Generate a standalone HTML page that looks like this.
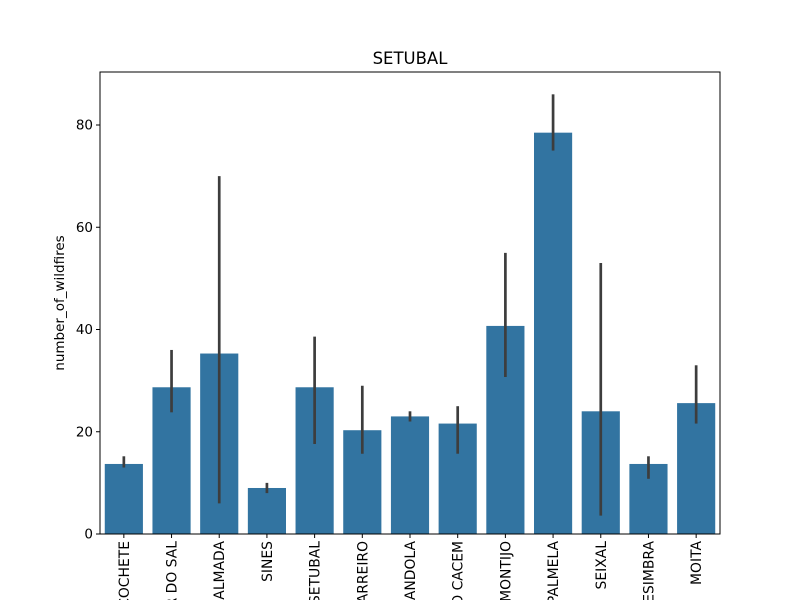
<!DOCTYPE html>
<html><head><meta charset="utf-8"><style>html,body{margin:0;background:#fff;overflow:hidden;width:800px;height:600px}svg{display:block;overflow:hidden}text{font-family:"DejaVu Sans","Liberation Sans",sans-serif;fill:#000}</style></head>
<body>
<svg id="chart" width="800" height="600" viewBox="0 0 800 600">
<g id="bars"></g>
<g id="errs"></g>
<rect x="100" y="72" width="620" height="462" fill="none" stroke="#000" stroke-width="1"/>
<g id="yaxis"></g>
<g id="xaxis"></g>
<text x="410" y="64" font-size="16.5" text-anchor="middle">SETUBAL</text>
<text transform="translate(64,303) rotate(-90)" font-size="13.5" text-anchor="middle">number_of_wildfires</text>
</svg>
<script>
const categories=["ALCOCHETE","ALCACER DO SAL","ALMADA","SINES","SETUBAL","BARREIRO","GRANDOLA","SANTIAGO DO CACEM","MONTIJO","PALMELA","SEIXAL","SESIMBRA","MOITA"];
const values=[13.7,28.7,35.3,9,28.7,20.3,23,21.6,40.7,78.5,24,13.7,25.6];
const errLow=[13,23.8,6,8,17.6,15.7,22,15.7,30.7,75,3.6,10.8,21.6];
const errHigh=[15.2,36,70,10,38.6,29,24,25,55,86,53,15.2,33];
const yTicks=[0,20,40,60,80];
const NS="http://www.w3.org/2000/svg";
const L=100,R=720,B=534,T=72;
function y(v){return B-v*(534-125)/80;}
const slot=(R-L)/categories.length;
function xc(i){return L+slot*(i+0.5);}
function mk(t,a,p){const e=document.createElementNS(NS,t);for(const k in a)e.setAttribute(k,a[k]);p.appendChild(e);return e;}
const bars=document.getElementById('bars'),errs=document.getElementById('errs'),xa=document.getElementById('xaxis'),ya=document.getElementById('yaxis');
const bw=slot*0.8;
categories.forEach((c,i)=>{
 const r=mk('rect',{x:xc(i)-bw/2,y:y(values[i]),width:bw,height:B-y(values[i]),fill:'#3274a1'},bars);
 
 
 const l=mk('line',{x1:xc(i),x2:xc(i),y1:y(errLow[i]),y2:y(errHigh[i]),stroke:'#3d3d3d','stroke-width':2.7},errs);
 
 
 mk('line',{x1:xc(i),x2:xc(i),y1:B,y2:B+4,stroke:'#000'},xa);
 const t=mk('text',{transform:`translate(${xc(i)+5},${B+7}) rotate(-90)`,'font-size':13.9,'text-anchor':'end'},xa);
 t.textContent=c;
 
 
});
yTicks.forEach(v=>{
 mk('line',{x1:L-4,x2:L,y1:y(v),y2:y(v),stroke:'#000'},ya);
 const t=mk('text',{x:L-7,y:y(v)+4.5,'font-size':13.5,'text-anchor':'end'},ya);
 t.textContent=v;
 
 
});
</script>
</body></html>
